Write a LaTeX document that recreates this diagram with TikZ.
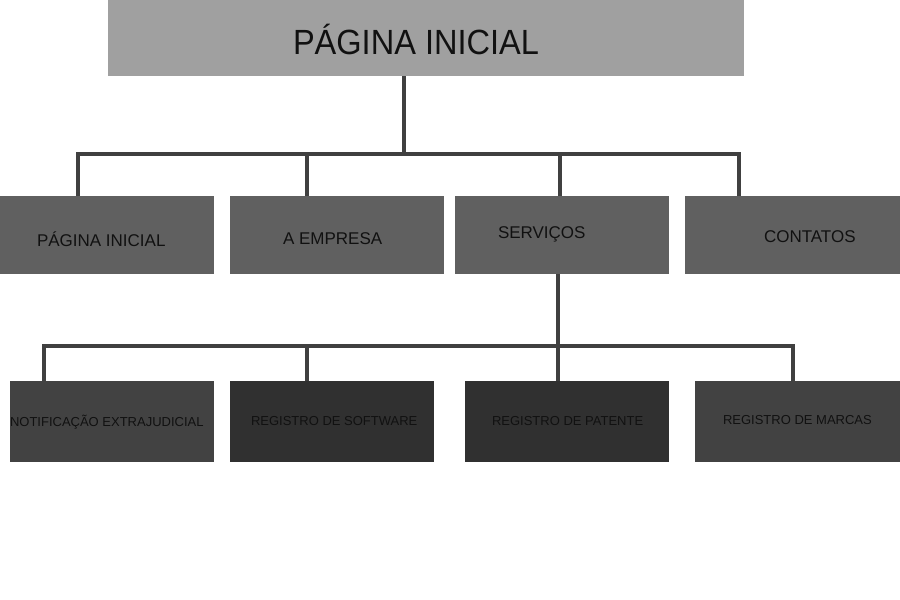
\documentclass[tikz,border=0pt]{standalone}
\usepackage{fontspec}
\setmainfont{Liberation Sans}
\definecolor{topfill}{HTML}{A0A0A0}
\definecolor{midfill}{HTML}{606060}
\definecolor{lowfillA}{HTML}{424242}
\definecolor{lowfillB}{HTML}{303030}
\definecolor{linecol}{HTML}{404040}
\definecolor{txtcol}{HTML}{111111}
\tikzset{
  boxnode/.style={draw=none, inner sep=0pt, outer sep=0pt, anchor=north west},
  lbl/.style={anchor=base west, inner sep=0pt, outer sep=0pt, text=txtcol},
  conn/.style={draw=linecol, line width=3.5pt, line join=miter},
}
\begin{document}
\begin{tikzpicture}[x=1pt,y=-1pt]
\useasboundingbox[fill=white] (0,0) rectangle (900,600);
% boxes
\node[boxnode, fill=topfill, minimum width=636pt, minimum height=76pt] (top) at (108,0) {};
\node[boxnode, fill=midfill, minimum width=214pt, minimum height=78pt] (b1) at (0,196) {};
\node[boxnode, fill=midfill, minimum width=214pt, minimum height=78pt] (b2) at (230,196) {};
\node[boxnode, fill=midfill, minimum width=214pt, minimum height=78pt] (b3) at (455,196) {};
\node[boxnode, fill=midfill, minimum width=215pt, minimum height=78pt] (b4) at (685,196) {};
\node[boxnode, fill=lowfillA, minimum width=204pt, minimum height=81pt] (c1) at (10,381) {};
\node[boxnode, fill=lowfillB, minimum width=204pt, minimum height=81pt] (c2) at (230,381) {};
\node[boxnode, fill=lowfillB, minimum width=204pt, minimum height=81pt] (c3) at (465,381) {};
\node[boxnode, fill=lowfillA, minimum width=205pt, minimum height=81pt] (c4) at (695,381) {};
% labels
\node[lbl] (ttop) at (293,54) {\fontsize{35pt}{35pt}\selectfont\scalebox{0.93}[1]{PÁGINA INICIAL}};
\node[lbl] (tb1) at (37,246) {\fontsize{17pt}{17pt}\selectfont PÁGINA INICIAL};
\node[lbl] (tb2) at (283,244) {\fontsize{17pt}{17pt}\selectfont A EMPRESA};
\node[lbl] (tb3) at (498,238) {\fontsize{17pt}{17pt}\selectfont SERVIÇOS};
\node[lbl] (tb4) at (764,242) {\fontsize{17pt}{17pt}\selectfont CONTATOS};
\node[lbl] (tc1) at (10,426.5) {\fontsize{13pt}{13pt}\selectfont NOTIFICAÇÃO EXTRAJUDICIAL};
\node[lbl] (tc2) at (251,425.5) {\fontsize{13pt}{13pt}\selectfont REGISTRO DE SOFTWARE};
\node[lbl] (tc3) at (492,425) {\fontsize{13pt}{13pt}\selectfont REGISTRO DE PATENTE};
\node[lbl] (tc4) at (723,424.3) {\fontsize{13pt}{13pt}\selectfont REGISTRO DE MARCAS};
% connectors, level 1
\coordinate (j1) at (404,154);
\draw[conn] ([xshift=296pt]top.south west) -- (j1);
\draw[conn] ([xshift=78pt]b1.north west) |- (j1);
\draw[conn] ([xshift=77pt]b2.north west) |- (j1);
\draw[conn] ([xshift=105pt]b3.north west) |- (j1);
\draw[conn] ([xshift=54pt]b4.north west) |- (j1);
% connectors, level 2
\coordinate (j2) at (558,346);
\draw[conn] ([xshift=103pt]b3.south west) -- (j2);
\draw[conn] ([xshift=34pt]c1.north west) |- (j2);
\draw[conn] ([xshift=77pt]c2.north west) |- (j2);
\draw[conn] ([xshift=93pt]c3.north west) |- (j2);
\draw[conn] ([xshift=98pt]c4.north west) |- (j2);
\end{tikzpicture}
\end{document}
